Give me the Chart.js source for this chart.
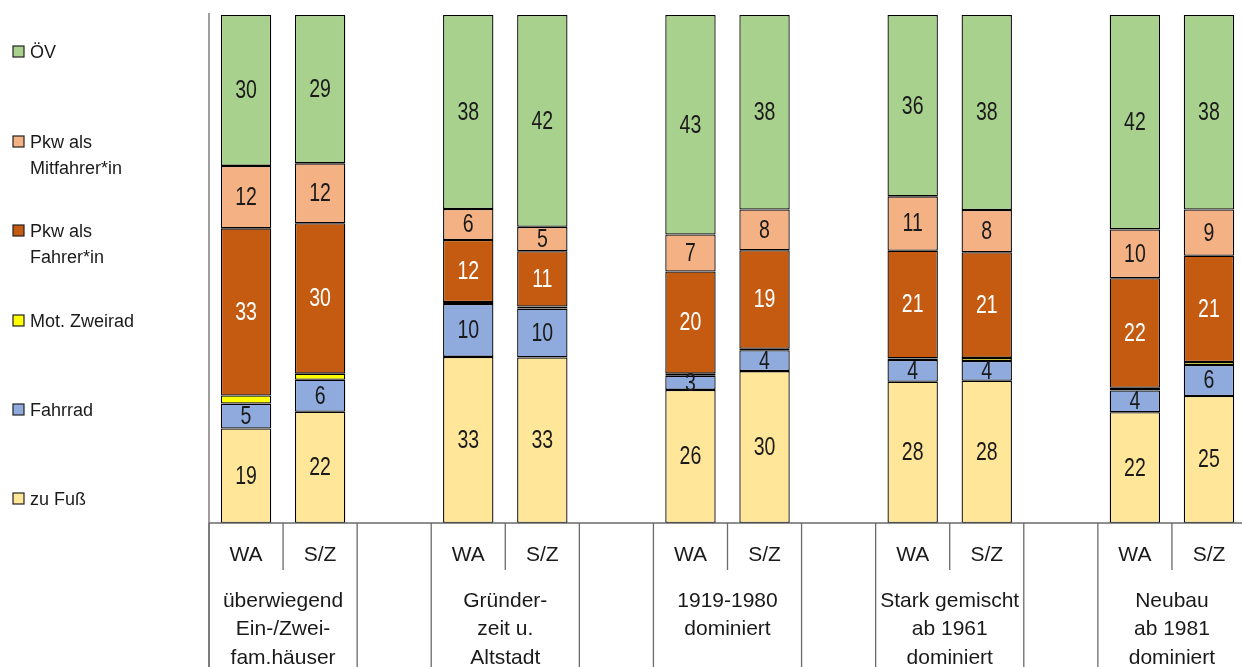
<!DOCTYPE html>
<html>
<head>
<meta charset="utf-8">
<script src="https://cdn.jsdelivr.net/npm/chart.js@4/dist/chart.umd.min.js"></script>
<style>
  html, body { margin: 0; padding: 0; background: #fff; overflow: hidden; }
  #wrap { width: 1242px; height: 667px; position: relative; overflow: hidden; }
</style>
</head>
<body>
<div id="wrap"><canvas id="c" width="1246" height="667"></canvas></div>
<script>
// Categories on the x axis: two bars per settlement type, with an empty slot between types
const categories = ['WA', 'S/Z', '', 'WA', 'S/Z', '', 'WA', 'S/Z', '', 'WA', 'S/Z', '', 'WA', 'S/Z'];

// Settlement type labels (second axis level)
const groupLabels = [
  ['überwiegend', 'Ein-/Zwei-', 'fam.häuser'],
  ['Gründer-', 'zeit u.', 'Altstadt'],
  ['1919-1980', 'dominiert'],
  ['Stark gemischt', 'ab 1961', 'dominiert'],
  ['Neubau', 'ab 1981', 'dominiert']
];

// Modal split shares in percent (bottom to top of each stack)
const zuFuss      = [18.6, 21.9, null, 32.7, 32.6, null, 26.2, 29.9, null, 27.8, 28.0, null, 21.8, 25.0];
const fahrrad     = [ 4.9,  6.3, null, 10.4,  9.6, null,  2.8,  4.1, null,  4.3,  3.9, null,  4.3,  6.1];
const motZweirad  = [ 1.6,  1.2, null,  0.4,  0.4, null,  0.4,  0.3, null,  0.3,  0.6, null,  0.5,  0.6];
const pkwFahrer   = [32.9, 29.6, null, 12.2, 10.9, null, 20.1, 19.4, null, 21.2, 20.8, null, 21.6, 20.9];
const pkwMitfahr  = [12.3, 11.8, null,  6.1,  4.8, null,  7.3,  8.0, null, 10.7,  8.3, null,  9.6,  9.1];
const oev         = [29.7, 29.2, null, 38.2, 41.7, null, 43.2, 38.3, null, 35.7, 38.4, null, 42.2, 38.3];

// Series names as shown in the legend (top to bottom)
const legendNames = [
  ['ÖV'],
  ['Pkw als', 'Mitfahrer*in'],
  ['Pkw als', 'Fahrer*in'],
  ['Mot. Zweirad'],
  ['Fahrrad'],
  ['zu Fuß']
];

const FONT = '"Liberation Sans", Arial, sans-serif';
const LINE = '#6b6b6b';
const TEXT = '#1a1a1a';

const datasets = [
  { label: 'zu Fuß',      data: zuFuss,     backgroundColor: '#FFE699', labelColor: TEXT },
  { label: 'Fahrrad',     data: fahrrad,    backgroundColor: '#8FAADC', labelColor: TEXT },
  { label: 'Mot. Zweirad',data: motZweirad, backgroundColor: '#FFFF00', labelColor: null },
  { label: 'Pkw als Fahrer*in',    data: pkwFahrer,  backgroundColor: '#C55A11', labelColor: '#fff' },
  { label: 'Pkw als Mitfahrer*in', data: pkwMitfahr, backgroundColor: '#F4B183', labelColor: TEXT },
  { label: 'ÖV',          data: oev,        backgroundColor: '#A9D18E', labelColor: TEXT }
].map(d => Object.assign(d, {
  borderColor: '#000',
  borderWidth: 1.3,
  borderSkipped: false,
  barPercentage: 0.68,
  categoryPercentage: 1.0
}));

// Condensed text: glyphs squeezed horizontally
function narrowText(ctx, text, x, y, squeeze) {
  ctx.save();
  ctx.translate(x, y);
  ctx.scale(squeeze, 1);
  ctx.fillText(text, 0, 0);
  ctx.restore();
}

// Value labels centred in each segment
const valueLabels = {
  id: 'valueLabels',
  afterDatasetsDraw(chart) {
    const ctx = chart.ctx;
    ctx.save();
    ctx.font = '25px ' + FONT;
    ctx.textAlign = 'center';
    ctx.textBaseline = 'middle';
    chart.data.datasets.forEach((ds, di) => {
      if (!ds.labelColor) return;
      const meta = chart.getDatasetMeta(di);
      meta.data.forEach((el, i) => {
        const v = ds.data[i];
        if (v == null) return;
        ctx.fillStyle = ds.labelColor;
        narrowText(ctx, String(Math.round(v)), el.x, (el.y + el.base) / 2 + 1, 0.78);
      });
    });
    ctx.restore();
  }
};

// Two-level category axis with separator lines
const groupAxis = {
  id: 'groupAxis',
  afterDraw(chart) {
    const ctx = chart.ctx;
    const area = chart.chartArea;
    const x = chart.scales.x;
    const H = chart.height;
    const step = x.getPixelForValue(1) - x.getPixelForValue(0);
    const edge = i => x.getPixelForValue(i) - step / 2;
    ctx.save();
    ctx.strokeStyle = LINE;
    ctx.lineWidth = 1.3;
    // value axis line and category axis line
    ctx.beginPath();
    ctx.moveTo(area.left, area.top - 2);
    ctx.lineTo(area.left, H);
    ctx.moveTo(area.left, area.bottom);
    ctx.lineTo(area.right, area.bottom);
    ctx.stroke();
    ctx.fillStyle = TEXT;
    ctx.textAlign = 'center';
    ctx.textBaseline = 'middle';
    ctx.font = '21px ' + FONT;
    groupLabels.forEach((lines, g) => {
      const i0 = g * 3;
      const left = edge(i0);
      const mid = edge(i0 + 1);
      const right = edge(i0 + 2);
      ctx.beginPath();
      ctx.moveTo(mid, area.bottom);
      ctx.lineTo(mid, area.bottom + 47);
      ctx.moveTo(left, area.bottom);
      ctx.lineTo(left, H);
      ctx.moveTo(right, area.bottom);
      ctx.lineTo(right, H);
      ctx.stroke();
      ctx.fillText(categories[i0], x.getPixelForValue(i0), area.bottom + 32);
      ctx.fillText(categories[i0 + 1], x.getPixelForValue(i0 + 1), area.bottom + 32);
      const cx = (left + right) / 2;
      lines.forEach((t, k) => {
        ctx.fillText(t, cx, area.bottom + 78 + k * 28.5);
      });
    });
    ctx.restore();
  }
};

// Legend at the left, ordered top to bottom as in the stack
const sideLegend = {
  id: 'sideLegend',
  afterDraw(chart) {
    const ctx = chart.ctx;
    const rows = [52, 142, 231, 321, 410, 499];
    const colors = ['#A9D18E', '#F4B183', '#C55A11', '#FFFF00', '#8FAADC', '#FFE699'];
    ctx.save();
    ctx.font = '18px ' + FONT;
    ctx.textBaseline = 'middle';
    ctx.textAlign = 'left';
    legendNames.forEach((lines, k) => {
      const y = rows[k];
      ctx.fillStyle = colors[k];
      ctx.fillRect(13, y - 6, 11, 11);
      ctx.strokeStyle = '#222';
      ctx.lineWidth = 1.2;
      ctx.strokeRect(13, y - 6, 11, 11);
      ctx.fillStyle = TEXT;
      lines.forEach((t, j) => ctx.fillText(t, 30, y + 1 + j * 26));
    });
    ctx.restore();
  }
};

new Chart(document.getElementById('c'), {
  type: 'bar',
  data: { labels: categories, datasets },
  options: {
    responsive: false,
    animation: false,
    layout: { padding: { left: 209, top: 15, bottom: 144, right: 0 } },
    plugins: { legend: { display: false }, tooltip: { enabled: false } },
    scales: {
      x: { stacked: true, display: false },
      y: { stacked: true, display: false, min: 0, max: 100 }
    }
  },
  plugins: [valueLabels, groupAxis, sideLegend]
});
</script>
</body>
</html>
